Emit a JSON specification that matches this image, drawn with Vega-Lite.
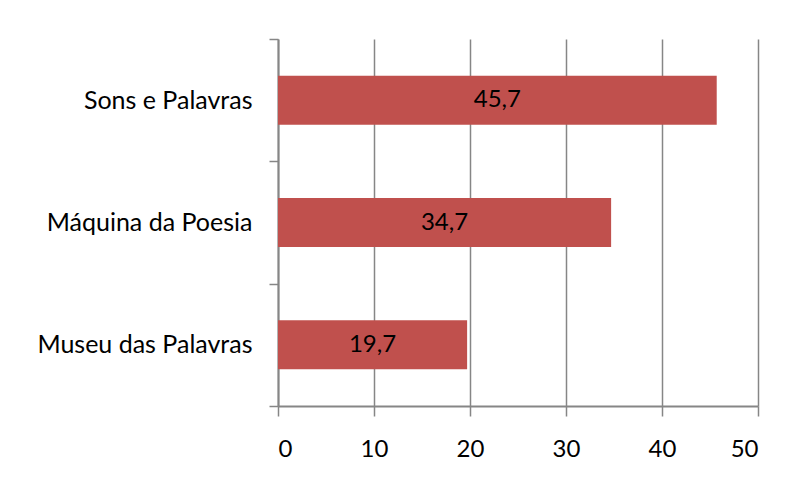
{
  "$schema": "https://vega.github.io/schema/vega-lite/v6.json",
  "width": 480,
  "height": 367,
  "autosize": {"type": "none"},
  "padding": {"left": 278, "top": 39, "right": 29, "bottom": 80},
  "background": "white",
  "config": {
    "view": {"stroke": null},
    "font": "Lato",
    "locale": {"number": {"decimal": ",", "thousands": ".", "grouping": [3], "currency": ["", " €"]}}
  },
  "data": {
    "values": [
      {"categoria": "Sons e Palavras", "valor": 45.7},
      {"categoria": "Máquina da Poesia", "valor": 34.7},
      {"categoria": "Museu das Palavras", "valor": 19.7}
    ]
  },
  "transform": [{"calculate": "datum.valor / 2", "as": "meio"}],
  "encoding": {
    "y": {
      "field": "categoria",
      "type": "nominal",
      "sort": null,
      "scale": {"paddingInner": 0, "paddingOuter": 0},
      "axis": {
        "title": null,
        "domainColor": "#868686",
        "domainWidth": 2,
        "tickColor": "#868686",
        "tickWidth": 1.5,
        "tickSize": 9,
        "tickBand": "extent",
        "labelFontSize": 25,
        "labelColor": "#000000",
        "labelPadding": 17,
        "labelLimit": 400,
        "labelFont": "Lato"
      }
    }
  },
  "layer": [
    {
      "mark": {"type": "bar", "color": "#C0504D", "height": {"band": 0.4}},
      "encoding": {
        "x": {
          "field": "valor",
          "type": "quantitative",
          "scale": {"domain": [0, 50], "nice": false},
          "axis": {
            "title": null,
            "values": [0, 10, 20, 30, 40, 50],
            "grid": true,
            "gridColor": "#868686",
            "gridWidth": 1.5,
            "domainColor": "#868686",
            "domainWidth": 2,
            "tickColor": "#868686",
            "tickWidth": 1.5,
            "tickSize": 10,
            "labelFontSize": 24,
            "labelColor": "#000000",
            "labelPadding": 21,
            "labelFont": "Lato"
          }
        }
      }
    },
    {
      "mark": {"type": "text", "fontSize": 24, "color": "#000000", "font": "Lato", "baseline": "middle", "align": "center"},
      "encoding": {
        "x": {"field": "meio", "type": "quantitative"},
        "text": {"field": "valor", "type": "quantitative", "format": ".1f"}
      }
    }
  ]
}
